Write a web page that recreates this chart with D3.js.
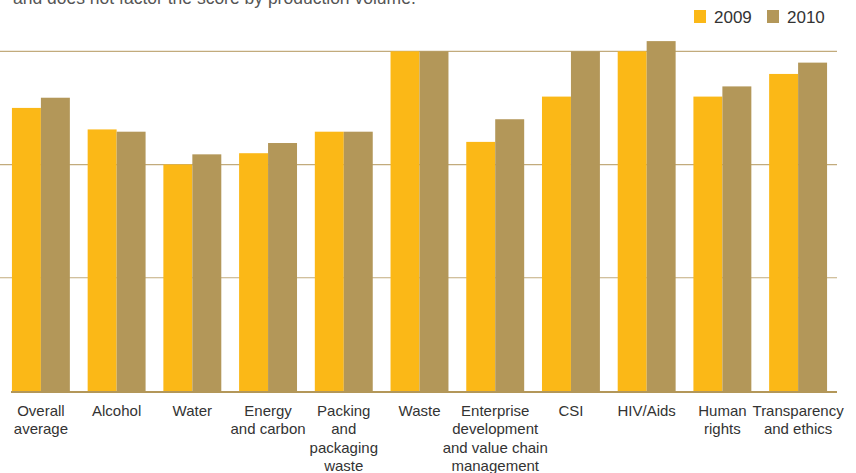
<!DOCTYPE html>
<html>
<head>
<meta charset="utf-8">
<script src="https://cdn.jsdelivr.net/npm/d3@7"></script>
<style>
  body { margin: 0; background: #fff; }
  svg text { font-family: "Liberation Sans", Arial, sans-serif; }
</style>
</head>
<body>
<svg id="chart" width="856" height="473"></svg>
<script>
// categories (label lines split with |)
const categories = [
  "Overall|average", "Alcohol", "Water", "Energy|and carbon",
  "Packing|and|packaging|waste", "Waste",
  "Enterprise|development|and value chain|management",
  "CSI", "HIV/Aids", "Human|rights", "Transparency|and ethics"
];
const years = ["2009", "2010"];
const values2009 = [2.5, 2.31, 2.0, 2.1, 2.29, 3.0, 2.2, 2.6, 3.0, 2.6, 2.8];
const values2010 = [2.59, 2.29, 2.09, 2.19, 2.29, 3.0, 2.4, 3.0, 3.09, 2.69, 2.9];
const gridTicks = [1, 2, 3];

const colors = { "2009": "#fbb817", "2010": "#b39759" };

let svg = d3.select("#chart");

// scales
let x = d3.scaleBand()
    .domain(categories)
    .range([3, 836])
    .paddingInner(0.235)
    .paddingOuter(0.118);

let xYear = d3.scaleBand()
    .domain(years)
    .range([0, x.bandwidth()]);

let y = d3.scaleLinear()
    .domain([0, 3])
    .range([391, 51.3]);

// the cut off intro line at the top (clipped in the source too)
svg.append("text")
    .attr("x", 13)
    .attr("y", 4)
    .attr("font-size", 17.5)
    .attr("fill", "#555")
    .text("and does not factor the score by production volume.");

// gridlines
svg.append("g")
    .selectAll("line")
    .data(gridTicks)
    .enter().append("line")
    .attr("x1", 0)
    .attr("x2", 837)
    .attr("y1", d => y(d))
    .attr("y2", d => y(d))
    .attr("stroke", "#c2ab7c")
    .attr("stroke-width", 1.2);

// bars
let rows = categories.map((c, i) => ({ cat: c, vals: [
    { year: "2009", value: values2009[i] },
    { year: "2010", value: values2010[i] }
]}));

let groups = svg.append("g")
    .selectAll("g")
    .data(rows)
    .enter().append("g")
    .attr("transform", d => `translate(${x(d.cat)},0)`);

groups.selectAll("rect")
    .data(d => d.vals)
    .enter().append("rect")
    .attr("x", d => xYear(d.year))
    .attr("width", xYear.bandwidth())
    .attr("y", d => y(d.value))
    .attr("height", d => y(0) - y(d.value))
    .attr("fill", d => colors[d.year]);

// baseline
svg.append("line")
    .attr("x1", x.range()[0] + 8)
    .attr("x2", 837)
    .attr("y1", y(0) + 1)
    .attr("y2", y(0) + 1)
    .attr("stroke", "#b39759")
    .attr("stroke-width", 2);

// category labels
let labels = svg.append("g")
    .selectAll("text")
    .data(categories)
    .enter().append("text")
    .attr("text-anchor", "middle")
    .attr("font-size", 15)
    .attr("fill", "#333")
    .attr("transform", d => `translate(${x(d) + x.bandwidth() / 2},416)`);

labels.selectAll("tspan")
    .data(d => d.split("|"))
    .enter().append("tspan")
    .attr("x", 0)
    .attr("y", (d, i) => i * 18.3)
    .text(d => d);

// legend
let legend = svg.append("g")
    .selectAll("g")
    .data(years)
    .enter().append("g")
    .attr("transform", (d, i) => `translate(${694 + i * 73},0)`);

legend.append("rect")
    .attr("x", 0)
    .attr("y", 10)
    .attr("width", 12)
    .attr("height", 13)
    .attr("fill", d => colors[d]);

legend.append("text")
    .attr("x", 20)
    .attr("y", 23)
    .attr("font-size", 17)
    .attr("fill", "#333")
    .text(d => d);
</script>
</body>
</html>
